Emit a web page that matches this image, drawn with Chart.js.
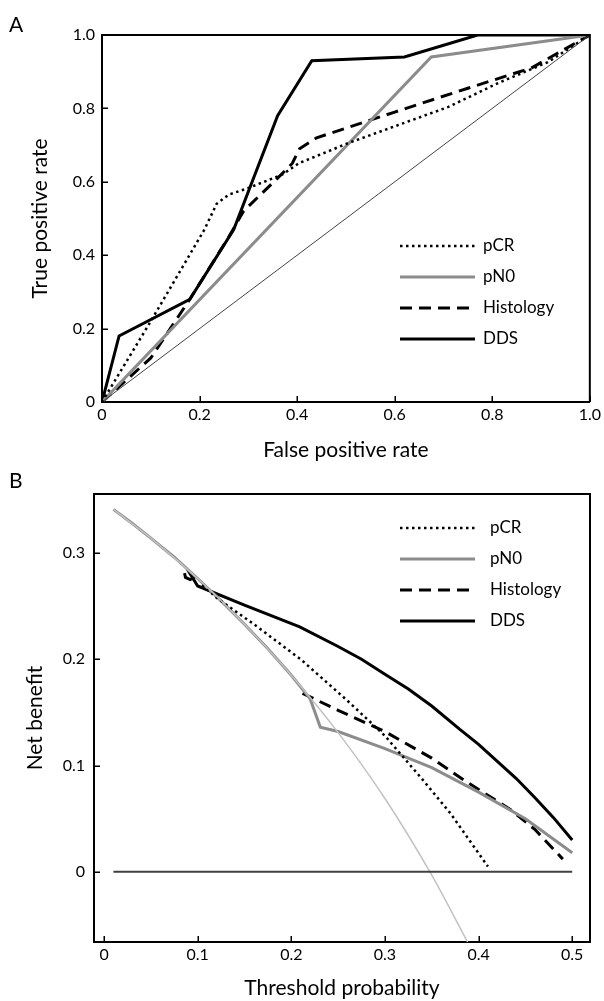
<!DOCTYPE html>
<html>
<head>
<meta charset="utf-8">
<script src="https://cdn.jsdelivr.net/npm/chart.js@4.4.1/dist/chart.umd.min.js"></script>
<style>
    html, body { margin: 0; padding: 0; background: #fff; }
    body { width: 604px; height: 1001px; position: relative; overflow: hidden; font-family: Lato, "Open Sans", sans-serif; }
    .panel { position: absolute; left: 0; }
    #panelA { top: 0; }
    #panelB { top: 470px; }
    .letter { position: absolute; left: 9px; font-size: 21px; line-height: 1; color: #000; }
</style>
</head>
<body>
<div class="panel" id="panelA"><canvas id="rocChart" width="604" height="470"></canvas></div>
<div class="panel" id="panelB"><canvas id="dcaChart" width="604" height="531"></canvas></div>
<div class="letter" style="top:13px">A</div>
<div class="letter" style="top:469px">B</div>
<script>
// Panel A - ROC curves (false positive rate / true positive rate)
const rocTicks = [0, 0.2, 0.4, 0.6, 0.8, 1.0];
const diagFpr = [0, 1];
const diagTpr = [0, 1];
const rocPcrFpr = [0, 0.10, 0.21, 0.235, 0.26, 0.30, 0.37, 0.404, 0.506, 0.608, 0.71, 0.812, 0.914, 1.0];
const rocPcrTpr = [0, 0.22, 0.47, 0.54, 0.565, 0.583, 0.62, 0.651, 0.706, 0.755, 0.804, 0.869, 0.926, 1.0];
const rocPn0Fpr = [0, 0.675, 1.0];
const rocPn0Tpr = [0, 0.94, 1.0];
const rocHistFpr = [0, 0.10, 0.18, 0.26, 0.29, 0.36, 0.39, 0.405, 0.44, 0.60, 0.75, 0.88, 1.0];
const rocHistTpr = [0, 0.12, 0.28, 0.45, 0.52, 0.61, 0.65, 0.69, 0.72, 0.79, 0.855, 0.91, 1.0];
const rocDdsFpr = [0, 0.035, 0.18, 0.27, 0.36, 0.43, 0.62, 0.77, 1.0];
const rocDdsTpr = [0, 0.18, 0.28, 0.47, 0.78, 0.93, 0.94, 1.0, 1.0];

// Panel B - decision curves (threshold probability / net benefit)
const dcaXTicks = [0, 0.1, 0.2, 0.3, 0.4, 0.5];
const dcaYTicks = [0, 0.1, 0.2, 0.3];
const noneT = [0.01, 0.5];
const noneNb = [0, 0];
const allT = [0.01, 0.05, 0.10, 0.15, 0.20, 0.25, 0.30, 0.35, 0.39];
const allNb = [0.341, 0.314, 0.276, 0.233, 0.185, 0.131, 0.069, -0.003, -0.069];
const pcrT = [0.105, 0.12, 0.16, 0.21, 0.26, 0.30, 0.34, 0.37, 0.41];
const pcrNb = [0.27, 0.258, 0.233, 0.2, 0.161, 0.128, 0.087, 0.055, 0.005];
const pn0T = [0.01, 0.03, 0.05, 0.075, 0.10, 0.125, 0.15, 0.175, 0.20, 0.22, 0.231, 0.25, 0.30, 0.35, 0.40, 0.45, 0.50];
const pn0Nb = [0.341, 0.328, 0.314, 0.296, 0.276, 0.255, 0.233, 0.210, 0.185, 0.163, 0.136, 0.132, 0.116, 0.098, 0.075, 0.050, 0.018];
const histT = [0.212, 0.25, 0.30, 0.35, 0.385, 0.435, 0.46, 0.49];
const histNb = [0.168, 0.152, 0.132, 0.107, 0.086, 0.058, 0.04, 0.012];
const ddsT = [0.086, 0.087, 0.092, 0.096, 0.093, 0.10, 0.15, 0.209, 0.25, 0.275, 0.30, 0.325, 0.35, 0.38, 0.40, 0.42, 0.44, 0.46, 0.48, 0.50];
const ddsNb = [0.281, 0.277, 0.275, 0.277, 0.279, 0.269, 0.251, 0.2305, 0.212, 0.2, 0.186, 0.172, 0.156, 0.134, 0.12, 0.104, 0.088, 0.07, 0.051, 0.03];

const FONT = 'Lato, "Open Sans", sans-serif';

function pts(xs, ys) {
    return xs.map((x, i) => ({ x: x, y: ys[i] }));
}

function fmtTick(v) {
    return v === 0 ? '0' : v.toFixed(1);
}

// shared series styles
const styles = {
    pCR: { borderColor: '#000', borderWidth: 2.5, borderDash: [2.5, 3.5] },
    pN0: { borderColor: '#8c8c8c', borderWidth: 3 },
    Histology: { borderColor: '#000', borderWidth: 3, borderDash: [12, 7] },
    DDS: { borderColor: '#000', borderWidth: 3 }
};

function series(label, data, extra) {
    return Object.assign({ label: label, data: data, showLine: true, pointRadius: 0, tension: 0, fill: false }, styles[label] || {}, extra || {});
}

function makeAxis(o) {
    return {
        type: 'linear',
        min: o.min,
        max: o.max,
        afterBuildTicks: s => { s.ticks = o.ticks.map(v => ({ value: v })); },
        afterFit: o.fit,
        grid: { display: false, drawTicks: false, tickLength: 0 },
        border: { display: true, color: '#000', width: 2 },
        ticks: { padding: o.tickPad, color: '#000', font: { family: FONT, size: 16 }, callback: fmtTick, maxRotation: 0, autoSkip: false },
        title: { display: true, text: o.title, color: '#000', font: { family: FONT, size: 21 }, padding: o.titlePad }
    };
}

// top/right sides of the box and the inward tick marks
const frame = {
    id: 'frame',
    afterDraw(chart) {
        const a = chart.chartArea;
        const ctx = chart.ctx;
        const xs = chart.scales.x;
        const ys = chart.scales.y;
        ctx.save();
        ctx.strokeStyle = '#000';
        ctx.lineWidth = 2;
        ctx.beginPath();
        ctx.moveTo(a.left, a.top);
        ctx.lineTo(a.right, a.top);
        ctx.lineTo(a.right, a.bottom);
        ctx.stroke();
        ctx.lineWidth = 1.5;
        ctx.beginPath();
        xs.ticks.forEach(t => {
            const px = Math.round(xs.getPixelForValue(t.value)) + 0.25;
            ctx.moveTo(px, a.bottom);
            ctx.lineTo(px, a.bottom - 6);
        });
        ys.ticks.forEach(t => {
            const py = Math.round(ys.getPixelForValue(t.value)) + 0.25;
            ctx.moveTo(a.left, py);
            ctx.lineTo(a.left + 6, py);
        });
        ctx.stroke();
        ctx.restore();
    }
};

// legend drawn inside the plot area
const insideLegend = {
    id: 'insideLegend',
    afterDatasetsDraw(chart, args, opts) {
        const ctx = chart.ctx;
        ctx.save();
        opts.items.forEach((idx, i) => {
            const ds = chart.data.datasets[idx];
            const y = opts.y + i * opts.gap;
            ctx.beginPath();
            ctx.strokeStyle = ds.borderColor;
            ctx.lineWidth = ds.borderWidth;
            ctx.setLineDash(ds.borderDash || []);
            ctx.moveTo(opts.x, y);
            ctx.lineTo(opts.x + opts.len, y);
            ctx.stroke();
            ctx.setLineDash([]);
            ctx.fillStyle = '#000';
            ctx.font = '17px ' + FONT;
            ctx.textBaseline = 'middle';
            ctx.fillText(ds.label, opts.textX, y);
        });
        ctx.restore();
    }
};

function baseOptions(o) {
    return {
        responsive: false,
        animation: false,
        layout: { padding: o.padding },
        plugins: {
            legend: { display: false },
            tooltip: { enabled: false },
            insideLegend: o.legend
        },
        scales: { x: o.x, y: o.y }
    };
}

new Chart(document.getElementById('rocChart'), {
    type: 'scatter',
    data: {
        datasets: [
            series('reference', pts(diagFpr, diagTpr), { borderColor: '#444', borderWidth: 1 }),
            series('pCR', pts(rocPcrFpr, rocPcrTpr)),
            series('pN0', pts(rocPn0Fpr, rocPn0Tpr)),
            series('Histology', pts(rocHistFpr, rocHistTpr)),
            series('DDS', pts(rocDdsFpr, rocDdsTpr))
        ]
    },
    options: baseOptions({
        padding: { left: 0, top: 35, right: 12, bottom: 0 },
        legend: { items: [1, 2, 3, 4], x: 400, len: 75, textX: 483, y: 246, gap: 31 },
        x: makeAxis({ min: 0, max: 1, ticks: rocTicks, tickPad: 3, title: 'False positive rate', titlePad: { top: 0, bottom: 7.4 }, fit: s => { s.height = 68; } }),
        y: makeAxis({ min: 0, max: 1, ticks: rocTicks, tickPad: 7, title: 'True positive rate', titlePad: { top: 27.4, bottom: 0 }, fit: s => { s.width = 102; } })
    }),
    plugins: [frame, insideLegend]
});

new Chart(document.getElementById('dcaChart'), {
    type: 'scatter',
    data: {
        datasets: [
            series('treat none', pts(noneT, noneNb), { borderColor: '#404040', borderWidth: 2 }),
            series('treat all', pts(allT, allNb), { borderColor: '#c2c2c2', borderWidth: 1.5, tension: 0.3 }),
            series('pCR', pts(pcrT, pcrNb)),
            series('pN0', pts(pn0T, pn0Nb)),
            series('Histology', pts(histT, histNb)),
            series('DDS', pts(ddsT, ddsNb))
        ]
    },
    options: baseOptions({
        padding: { left: 0, top: 24, right: 14, bottom: 0 },
        legend: { items: [2, 3, 4, 5], x: 400, len: 75, textX: 490, y: 58, gap: 31 },
        x: makeAxis({ min: -0.0107, max: 0.519, ticks: dcaXTicks, tickPad: 3, title: 'Threshold probability', titlePad: { top: 0, bottom: 0.4 }, fit: s => { s.height = 59; } }),
        y: makeAxis({ min: -0.066, max: 0.3555, ticks: dcaYTicks, tickPad: 9, title: 'Net benefit', titlePad: { top: 22.4, bottom: 0 }, fit: s => { s.width = 94; } })
    }),
    plugins: [frame, insideLegend]
});
</script>
</body>
</html>
